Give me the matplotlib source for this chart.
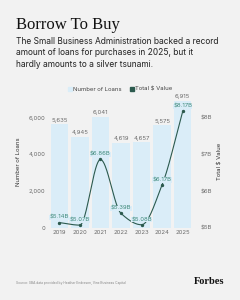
import matplotlib
matplotlib.use("Agg")
import matplotlib.pyplot as plt
from matplotlib.lines import Line2D
import numpy as np

years = ["2019", "2020", "2021", "2022", "2023", "2024", "2025"]
loans = [5635, 4945, 6041, 4619, 4657, 5575, 6915]
value_b = [5.14, 5.07, 6.86, 5.39, 5.08, 6.17, 8.17]
right_ticks = [5, 6, 7, 8]

BG = "#f2f2f2"
BAR = "#daedf8"
LINE = "#2c5a4e"
LBL = "#3f8a7b"
GREY = "#6b6b6b"
SANS = ["Inter", "DejaVu Sans"]


def monotone_curve(x, y, n=40):
    # Fritsch-Carlson monotone cubic, just for drawing the smooth line
    x = np.asarray(x, float)
    y = np.asarray(y, float)
    h = np.diff(x)
    d = np.diff(y) / h
    m = np.zeros_like(y)
    m[0], m[-1] = d[0], d[-1]
    for i in range(1, len(y) - 1):
        if d[i - 1] * d[i] <= 0:
            m[i] = 0
        else:
            w1 = 2 * h[i] + h[i - 1]
            w2 = h[i] + 2 * h[i - 1]
            m[i] = (w1 + w2) / (w1 / d[i - 1] + w2 / d[i])
    xs, ys = [], []
    for i in range(len(x) - 1):
        t = np.linspace(0, 1, n)
        h00 = 2 * t**3 - 3 * t**2 + 1
        h10 = t**3 - 2 * t**2 + t
        h01 = -2 * t**3 + 3 * t**2
        h11 = t**3 - t**2
        xs.append(x[i] + t * h[i])
        ys.append(h00 * y[i] + h10 * h[i] * m[i] + h01 * y[i + 1] + h11 * h[i] * m[i + 1])
    return np.concatenate(xs), np.concatenate(ys)


fig = plt.figure(figsize=(2.4, 3.0), dpi=100, facecolor=BG)
ax = fig.add_axes([48 / 240, 1 - 227.7 / 300, 146 / 240, 132 / 300])
ax.set_facecolor(BG)

x = np.arange(len(years))
ax.bar(x, loans, width=0.84, color=BAR, zorder=1)
for xi, v in zip(x, loans):
    ax.text(xi, v + 90, f"{v:,}", ha="center", va="bottom", fontsize=4.3,
            color=GREY, family=SANS)

ax.set_xlim(-0.55, len(years) - 0.45)
ax.set_ylim(0, 7200)
ax.set_xticks(x, years)
ax.set_yticks([0, 2000, 4000, 6000], ["0", "2,000", "4,000", "6,000"])
ax.tick_params(length=0, labelsize=4.3, labelcolor=GREY, pad=2)
for lab in ax.get_xticklabels() + ax.get_yticklabels():
    lab.set_family(SANS)
for s in ax.spines.values():
    s.set_visible(False)
ax.set_ylabel("Number of Loans", fontsize=4.3, color="#333333", family=SANS, labelpad=5)

ax2 = ax.twinx()
ax2.set_ylim(5, 5 + 7200 / 2000)
ax2.set_yticks(right_ticks, [f"${t}B" for t in right_ticks])
ax2.tick_params(length=0, labelsize=4.3, labelcolor=GREY, pad=5)
for lab in ax2.get_yticklabels():
    lab.set_family(SANS)
for s in ax2.spines.values():
    s.set_visible(False)
ax2.set_ylabel("Total $ Value", fontsize=4.3, color="#333333", family=SANS, labelpad=4)

cx, cy = monotone_curve(x, value_b)
ax2.plot(cx, cy, color=LINE, lw=0.8, zorder=3)
ax2.scatter(x, value_b, s=2, color=LINE, zorder=4)
for xi, v in zip(x, value_b):
    ax2.text(xi, v + 0.07, f"${v:.2f}B", ha="center", va="bottom", fontsize=4.3,
             color=LBL, family=SANS, zorder=5,
             bbox=dict(boxstyle="square,pad=0.05", fc=BAR, ec="none"))

handles = [
    Line2D([], [], marker="s", ls="", color=BAR, markersize=2.5),
    Line2D([], [], marker="s", ls="", color=LINE, markersize=2.5),
]
fig.legend(handles, ["Number of Loans", "Total $ Value"], loc="center",
           bbox_to_anchor=(0.5, 1 - 89 / 300), ncol=2, frameon=False,
           prop={"family": SANS, "size": 4.3}, handletextpad=0.2,
           columnspacing=1.2, handlelength=0.8, labelcolor="#444444")

fig.text(16 / 240, 1 - 25 / 300, "Borrow To Buy", fontsize=12,
         family="Liberation Serif", color="#111111", va="center")
subtitle = ("The Small Business Administration backed a record\n"
            "amount of loans for purchases in 2025, but it\n"
            "hardly amounts to a silver tsunami.")
fig.text(16 / 240, 1 - 36.5 / 300, subtitle, fontsize=6.05, family=SANS,
         color="#222222", va="top", linespacing=1.4)

fig.text(16 / 240, 1 - 283 / 300,
         "Source: SBA data provided by Heather Endresen, Vine Business Capital",
         fontsize=2.4, color="#888888", family=SANS, va="center")
fig.text(224 / 240, 1 - 281 / 300, "Forbes", fontsize=7.5, weight="bold",
         family="Liberation Serif", color="#111111", ha="right", va="center")

fig.savefig("out.png", dpi=100, facecolor=BG)
